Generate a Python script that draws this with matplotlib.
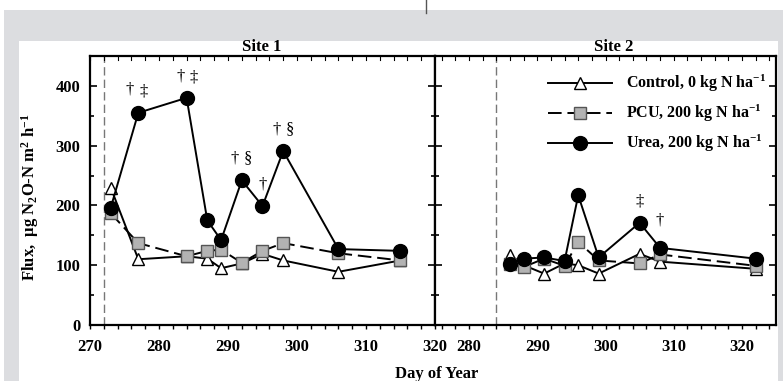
import matplotlib
matplotlib.use("Agg")
import matplotlib.pyplot as plt
from matplotlib.patches import Rectangle
from matplotlib.lines import Line2D
from matplotlib.ticker import MultipleLocator

plt.rcParams.update({
    "font.family": "Liberation Serif",
    "font.weight": "bold",
    "mathtext.fontset": "custom",
    "mathtext.rm": "Liberation Serif:bold",
    "mathtext.it": "Liberation Serif:italic:bold",
    "mathtext.bf": "Liberation Serif:bold",
})

# ── Data ──────────────────────────────────────────────────────────────────────
site1_day = [273, 277, 284, 287, 289, 292, 295, 298, 306, 315]
s1_control = [230, 110, 115, 111, 95, 103, 119, 108, 89, 108]
s1_pcu = [187, 137, 115, 124, 126, 104, 124, 137, 120, 108]
s1_urea = [196, 355, 380, 175, 142, 242, 199, 291, 127, 124]

site2_day = [286, 288, 291, 294, 296, 299, 305, 308, 322]
s2_control = [117, 100, 86, 103, 100, 86, 119, 106, 94]
s2_pcu = [102, 97, 111, 99, 139, 108, 103, 118, 99]
s2_urea = [102, 111, 113, 107, 217, 113, 171, 129, 111]

s1_fert_day = 272
s2_fert_day = 284

s1_marks = [(275.8, 380, "†"), (277.7, 377, "‡"), (283.1, 403, "†"), (285.0, 401, "‡"),
            (291.0, 265, "†"), (292.9, 265, "§"), (295.0, 222, "†"),
            (297.0, 314, "†"), (299.0, 314, "§")]
s2_marks = [(305.0, 194, "‡"), (308.0, 161, "†")]

labels = ["Control, 0 kg N ha$^{-1}$", "PCU, 200 kg N ha$^{-1}$", "Urea, 200 kg N ha$^{-1}$"]

# ── Figure & page background ─────────────────────────────────────────────────
W, H = 783, 381
fig = plt.figure(figsize=(W / 100, H / 100), dpi=100, facecolor="white")
GREY = "#dcdde0"
fig.patches.append(Rectangle((4 / W, 0), 1, (H - 10) / H, transform=fig.transFigure,
                             facecolor=GREY, edgecolor="none", zorder=-10))
fig.patches.append(Rectangle((19 / W, 0), (778 - 19) / W, (H - 41) / H, transform=fig.transFigure,
                             facecolor="white", edgecolor="none", zorder=-9))
fig.lines.append(Line2D([426 / W, 426 / W], [1, 1 - 13 / H], transform=fig.transFigure,
                        color="#555555", lw=1.0))

bottom = 1 - 325 / H
height = (325 - 56) / H
ax1 = fig.add_axes([90 / W, bottom, 345 / W, height])
ax2 = fig.add_axes([435 / W, bottom, 341 / W, height])

style = {
    "control": dict(color="black", lw=1.4, marker="^", ms=9, mfc="white", mec="black", mew=1.0, zorder=3),
    "pcu": dict(color="black", lw=1.4, ls=(0, (7, 3)), marker="s", ms=8, mfc="#b3b3b3", mec="#555555",
                mew=1.0, zorder=4),
    "urea": dict(color="black", lw=1.4, marker="o", ms=10, mfc="black", mec="black", zorder=5),
}


def panel(ax, days, ctrl, pcu, urea, fert, marks, xlim):
    ax.plot(days, ctrl, **style["control"])
    ax.plot(days, pcu, **style["pcu"])
    ax.plot(days, urea, **style["urea"])
    ax.axvline(fert, color="#777777", lw=1.0, ls=(0, (6, 3)), zorder=1)
    for d, v, s in marks:
        ax.text(d, v, s, ha="center", va="bottom", fontsize=12, fontweight="normal", zorder=6)
    ax.set_xlim(*xlim)
    ax.set_ylim(0, 450)
    ax.xaxis.set_major_locator(MultipleLocator(10))
    ax.xaxis.set_minor_locator(MultipleLocator(2))
    ax.yaxis.set_major_locator(MultipleLocator(100))
    ax.yaxis.set_minor_locator(MultipleLocator(50))
    ax.tick_params(axis="y", which="both", direction="in", left=True, right=True, width=1.2)
    ax.tick_params(axis="y", which="major", length=5, pad=7)
    ax.tick_params(axis="y", which="minor", length=3)
    ax.tick_params(axis="x", which="both", direction="out", top=False, width=1.0, length=3, pad=7)
    ax.tick_params(labelsize=12)
    for side in ax.spines.values():
        side.set_linewidth(1.6)
    # inward ticks along the top
    for t in range(int(xlim[0]) + (int(xlim[0]) % 2), int(xlim[1]) + 1, 2):
        ax.plot([t, t], [450, 443], color="black", lw=0.8, clip_on=False, zorder=2)


panel(ax1, site1_day, s1_control, s1_pcu, s1_urea, s1_fert_day, s1_marks, (270, 320))
panel(ax2, site2_day, s2_control, s2_pcu, s2_urea, s2_fert_day, s2_marks, (275, 325))
ax2.set_yticklabels([])
ax2.set_xticks([280, 290, 300, 310, 320])

# ── Titles & labels ──────────────────────────────────────────────────────────
fig.text(262 / W, 1 - 47 / H, "Site 1", ha="center", va="center", fontsize=12)
fig.text(614 / W, 1 - 47 / H, "Site 2", ha="center", va="center", fontsize=12)
fig.text(437 / W, 1 - 374 / H, "Day of Year", ha="center", va="center", fontsize=12)
fig.text(30 / W, 1 - 197 / H, "Flux,  μg N$_2$O-N m$^2$ h$^{-1}$", ha="center", va="center",
         rotation=90, fontsize=12)

# ── Legend ───────────────────────────────────────────────────────────────────
handles = [Line2D([], [], **style["control"]), Line2D([], [], **style["pcu"]),
           Line2D([], [], **style["urea"])]
ax2.legend(handles, labels, loc="upper left", bbox_to_anchor=(548 / W, 1 - 73 / H),
           bbox_transform=fig.transFigure, frameon=False, fontsize=11.5,
           handlelength=4.0, handletextpad=0.9, labelspacing=0.55, borderpad=0, borderaxespad=0)

fig.savefig("out.png", dpi=100, facecolor="white")
